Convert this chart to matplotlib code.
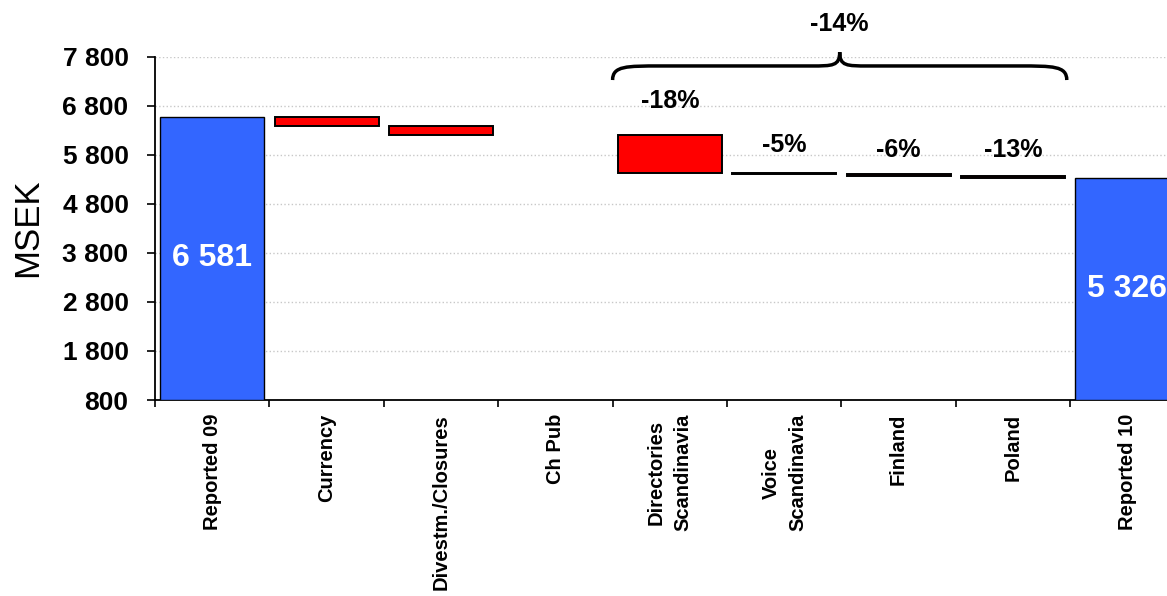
import matplotlib
matplotlib.use("Agg")
import matplotlib.pyplot as plt
from matplotlib.path import Path
from matplotlib.patches import PathPatch
import numpy as np

plt.rcParams['font.family'] = ['Liberation Sans', 'DejaVu Sans']

# Data (MSEK)
categories = ["Reported 09", "Currency", "Divestm./Closures", "Ch Pub",
              "Directories\nScandinavia", "Voice\nScandinavia", "Finland",
              "Poland", "Reported 10"]
start_value = 6581
end_value = 5326
changes = [-195, -180, 0, -780, -15, -45, -40]
start_label = "6 581"
end_label = "5 326"
pct_labels = ["-18%", "-5%", "-6%", "-13%"]   # Directories .. Poland
total_pct_label = "-14%"
yticks = [800, 1800, 2800, 3800, 4800, 5800, 6800, 7800]
ytick_labels = ["800", "1 800", "2 800", "3 800", "4 800", "5 800", "6 800", "7 800"]

BLUE = '#3366FF'
RED = '#FF0000'

fig = plt.figure(figsize=(11.67, 5.96), dpi=100)
W, H = 1167, 596
ax = fig.add_axes([155 / W, 196 / H, 1029.6 / W, 343 / H])

x = np.arange(len(categories))
width = 0.91

# start / end totals
ax.bar(x[0], start_value - 800, bottom=800, width=width, color=BLUE, edgecolor='black', linewidth=1, zorder=3)
ax.bar(x[-1], end_value - 800, bottom=800, width=width, color=BLUE, edgecolor='black', linewidth=1, zorder=3)

# floating changes
running = start_value
tops = []
for i, ch in enumerate(changes):
    new = running + ch
    tops.append(max(running, new))
    if ch != 0:
        ax.bar(x[i + 1], abs(ch), bottom=min(running, new), width=width,
               color=RED, edgecolor='black', linewidth=1.4, zorder=3)
    running = new

# value labels inside the totals
ax.text(x[0], (800 + start_value) / 2, start_label, color='white', fontsize=23,
        fontweight='bold', ha='center', va='center', zorder=4)
ax.text(x[-1], (800 + end_value) / 2, end_label, color='white', fontsize=23,
        fontweight='bold', ha='center', va='center', zorder=4)

# percentage labels above the segment bars
label_offsets_px = [34, 28, 24, 26]
for k, lab in enumerate(pct_labels):
    i = 4 + k
    ax.annotate(lab, xy=(x[i], tops[i - 1]), xytext=(0, label_offsets_px[k]),
                textcoords='offset pixels', ha='center', va='center',
                fontsize=18, fontweight='bold')

# curly brace over Directories .. Poland
x0, x1 = 3.50, 7.47
xc = (x0 + x1) / 2
ye, ym, yt = 7330, 7617, 7900
verts = [(x0, ye),
         (x0, ym), (x0 + 0.12, ym), (x0 + 0.42, ym),
         (xc - 0.25, ym),
         (xc - 0.06, ym), (xc, ym), (xc, yt),
         (xc, ym), (xc + 0.06, ym), (xc + 0.25, ym),
         (x1 - 0.42, ym),
         (x1 - 0.12, ym), (x1, ym), (x1, ye)]
codes = [Path.MOVETO,
         Path.CURVE4, Path.CURVE4, Path.CURVE4,
         Path.LINETO,
         Path.CURVE4, Path.CURVE4, Path.CURVE4,
         Path.CURVE4, Path.CURVE4, Path.CURVE4,
         Path.LINETO,
         Path.CURVE4, Path.CURVE4, Path.CURVE4]
ax.add_patch(PathPatch(Path(verts, codes), facecolor='none', edgecolor='black',
                       linewidth=2.5, clip_on=False, zorder=5))
ax.text(xc, 8480, total_pct_label, ha='center', va='center', fontsize=18,
        fontweight='bold', clip_on=False)

# axes styling
ax.set_xlim(-0.5, len(categories) - 0.5)
ax.set_ylim(800, 7800)
ax.set_yticks(yticks)
ax.set_yticklabels(ytick_labels, fontsize=19, fontweight='bold')
ax.tick_params(axis='y', direction='out', length=6, width=1.2, pad=13)

ax.set_xticks(x)
ax.set_xticklabels(categories, rotation=90, fontsize=14.5, fontweight='bold',
                   multialignment='center', linespacing=1.5)
ax.tick_params(axis='x', which='major', length=0, pad=10)
ax.set_xticks(np.arange(-0.5, len(categories) + 0.5, 1), minor=True)
ax.tick_params(axis='x', which='minor', direction='out', length=5, width=1.2)

for s in ['top', 'right']:
    ax.spines[s].set_visible(False)
for s in ['left', 'bottom']:
    ax.spines[s].set_linewidth(1.3)

ax.yaxis.grid(True, linestyle=':', color='#c8c8c8', linewidth=1)
ax.set_axisbelow(True)

fig.text(27.5 / W, 1 - 228 / H, "MSEK", rotation=90, ha='center', va='center', fontsize=25)

fig.savefig("out.png", dpi=100, facecolor='white')
